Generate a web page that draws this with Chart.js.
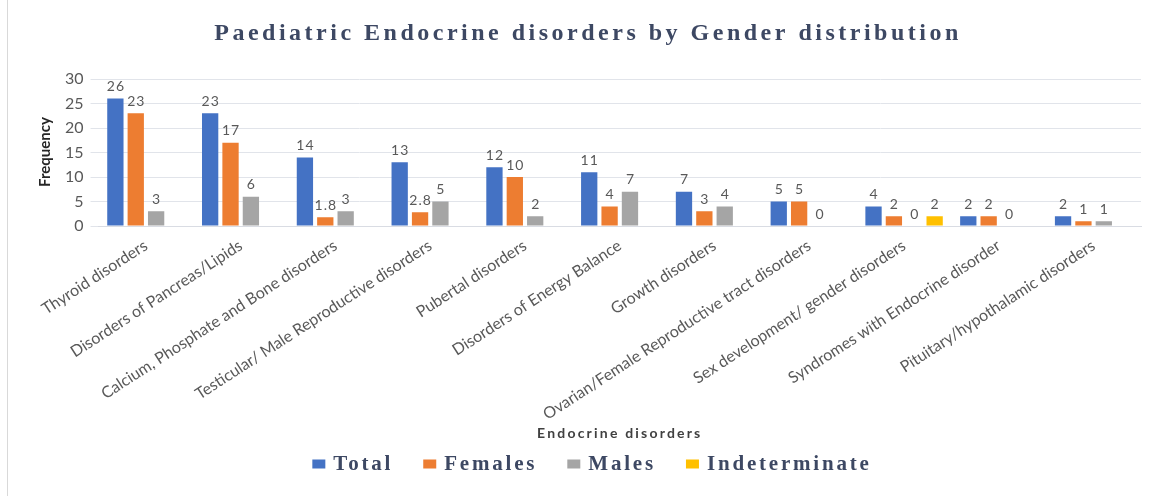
<!DOCTYPE html>
<html>
<head>
<meta charset="utf-8">
<script src="https://cdn.jsdelivr.net/npm/chart.js@4/dist/chart.umd.min.js"></script>
<style>
  html, body { margin: 0; padding: 0; background: #fff; }
  #wrap { width: 1160px; height: 496px; position: relative; }
  #frame { position: absolute; left: 7px; top: 0; width: 1px; height: 496px; background: #d9d9d9; }
</style>
</head>
<body>
<div id="wrap"><div id="frame"></div><canvas id="endoChart"></canvas></div>
<script>
var categories = [
    'Thyroid disorders',
    'Disorders of Pancreas/Lipids',
    'Calcium, Phosphate and Bone disorders',
    'Testicular/ Male Reproductive disorders',
    'Pubertal disorders',
    'Disorders of Energy Balance',
    'Growth disorders',
    'Ovarian/Female Reproductive tract disorders',
    'Sex development/ gender disorders',
    'Syndromes with Endocrine disorder',
    'Pituitary/hypothalamic disorders'
];
var totals = [26, 23, 14, 13, 12, 11, 7, 5, 4, 2, 2];
var females = [23, 17, 1.8, 2.8, 10, 4, 3, 5, 2, 2, 1];
var males = [3, 6, 3, 5, 2, 7, 4, 0, 0, 0, 1];
var indeterminate = [null, null, null, null, null, null, null, null, 2, null, null];
var yTicks = [0, 5, 10, 15, 20, 25, 30];

var titleText = 'Paediatric Endocrine disorders by Gender distribution';
var xTitle = 'Endocrine disorders';
var yTitle = 'Frequency';

// value labels above each bar (0 is shown, missing values are not)
var barLabels = {
    id: 'barLabels',
    afterDatasetsDraw: function (chart) {
        var ctx = chart.ctx;
        ctx.save();
        ctx.font = '14px Lato, "Open Sans", sans-serif';
        ctx.fillStyle = '#595959';
        ctx.textAlign = 'center';
        ctx.textBaseline = 'bottom';
        ctx.letterSpacing = '1px';
        chart.data.datasets.forEach(function (ds, i) {
            var meta = chart.getDatasetMeta(i);
            meta.data.forEach(function (bar, j) {
                var v = ds.data[j];
                if (v === null || v === undefined) return;
                ctx.fillText(String(v), bar.x + 0.5, bar.y - 5);
            });
        });
        ctx.restore();
    }
};

// layout boxes for the letter-spaced title (top) and axis title + legend (bottom)
function makeBox(position, weight, size, drawFn) {
    return {
        position: position,
        weight: weight,
        fullSize: true,
        options: {},
        left: 0, top: 0, right: 0, bottom: 0, width: 0, height: 0,
        isHorizontal: function () { return true; },
        update: function (maxWidth) {
            this.width = maxWidth;
            this.height = size;
        },
        draw: function () { drawFn(this); }
    };
}

var decorations = {
    id: 'decorations',
    start: function (chart) {
        var ctx = chart.ctx;

        Chart.layouts.addBox(chart, makeBox('top', 2000, 79, function () {
            ctx.save();
            ctx.fillStyle = '#3d4863';
            ctx.font = 'bold 24px "Liberation Serif", serif';
            ctx.letterSpacing = '3.5px';
            ctx.textAlign = 'center';
            ctx.textBaseline = 'middle';
            ctx.fillText(titleText, 588, 34);
            ctx.restore();
        }));

        Chart.layouts.addBox(chart, makeBox('bottom', 1000, 70, function (box) {
            var area = chart.chartArea;
            ctx.save();
            ctx.textAlign = 'center';
            ctx.textBaseline = 'middle';
            ctx.fillStyle = '#404040';
            ctx.font = 'bold 14px Lato, "Open Sans", sans-serif';
            ctx.letterSpacing = '2.2px';
            ctx.fillText(xTitle, (area.left + area.right) / 2, box.top + 7);

            ctx.font = 'bold 21px "Liberation Serif", serif';
            ctx.letterSpacing = '2.8px';
            ctx.textAlign = 'left';
            var boxW = 13, boxH = 9, gap = 8, itemGap = 30;
            var items = chart.data.datasets.map(function (ds) {
                return { label: ds.label, color: ds.backgroundColor, w: ctx.measureText(ds.label).width };
            });
            var total = 0;
            items.forEach(function (it, k) {
                total += boxW + gap + it.w + (k < items.length - 1 ? itemGap : 0);
            });
            var x = 592 - total / 2;
            var y = box.top + 38;
            items.forEach(function (it) {
                ctx.fillStyle = it.color;
                ctx.fillRect(x, y - boxH / 2, boxW, boxH);
                x += boxW + gap;
                ctx.fillStyle = '#3d4863';
                ctx.fillText(it.label, x, y + 1);
                x += it.w + itemGap;
            });
            ctx.restore();
        }));
    },
    afterDraw: function (chart) {
        var ctx = chart.ctx;
        ctx.save();
        ctx.translate(45, 152);
        ctx.rotate(-Math.PI / 2);
        ctx.fillStyle = '#262626';
        ctx.font = 'bold 15px "Liberation Sans Narrow", Lato, sans-serif';
        ctx.textAlign = 'center';
        ctx.textBaseline = 'middle';
        ctx.fillText(yTitle, 0, 0);
        ctx.restore();
    }
};

var canvas = document.getElementById('endoChart');
var ctx = canvas.getContext('2d');
new Chart(ctx, {
    type: 'bar',
    data: {
        labels: categories,
        datasets: [
            { label: 'Total', data: totals, backgroundColor: '#4472C4' },
            { label: 'Females', data: females, backgroundColor: '#ED7D31' },
            { label: 'Males', data: males, backgroundColor: '#A5A5A5' },
            { label: 'Indeterminate', data: indeterminate, backgroundColor: '#FFC000' }
        ]
    },
    options: {
        responsive: true,
        maintainAspectRatio: false,
        animation: false,
        layout: { padding: { left: 58, right: 19, top: 0, bottom: 0 } },
        datasets: { bar: { barPercentage: 0.8, categoryPercentage: 0.86 } },
        plugins: {
            title: { display: false },
            legend: { display: false },
            tooltip: { enabled: false }
        },
        scales: {
            x: {
                grid: { display: false },
                border: { color: '#d9dce3' },
                ticks: {
                    autoSkip: false,
                    maxRotation: 33,
                    minRotation: 33,
                    padding: 2,
                    color: '#595959',
                    font: { family: 'Lato, "Open Sans", sans-serif', size: 16 }
                }
            },
            y: {
                min: 0,
                max: 30,
                afterBuildTicks: function (scale) {
                    scale.ticks = yTicks.map(function (v) { return { value: v }; });
                },
                grid: { color: '#e1e4ea' },
                border: { display: false },
                ticks: {
                    color: '#595959',
                    padding: 7,
                    font: { family: 'Lato, "Open Sans", sans-serif', size: 16 }
                }
            }
        }
    },
    plugins: [barLabels, decorations]
});
</script>
</body>
</html>
